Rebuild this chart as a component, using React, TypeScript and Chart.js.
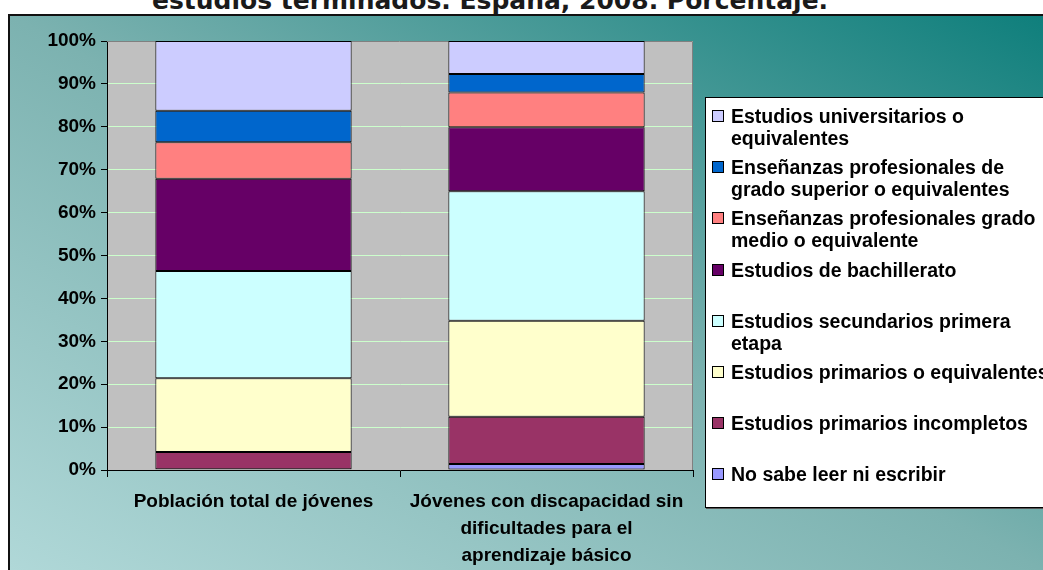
import React, { useEffect, useRef } from "react";
import { Chart, registerables } from "chart.js";

Chart.register(...registerables);

const categories: string[][] = [
  ["Población total de jóvenes"],
  ["Jóvenes con discapacidad sin", "dificultades para el", "aprendizaje básico"],
];

const seriesLabels = [
  "No sabe leer ni escribir",
  "Estudios primarios incompletos",
  "Estudios primarios o equivalentes",
  "Estudios secundarios primera\netapa",
  "Estudios de bachillerato",
  "Enseñanzas profesionales grado\nmedio o equivalente",
  "Enseñanzas profesionales de\ngrado superior o equivalentes",
  "Estudios universitarios o\nequivalentes",
];

const seriesColors = [
  "#9999FF",
  "#993366",
  "#FFFFCC",
  "#CCFFFF",
  "#660066",
  "#FF8080",
  "#0066CC",
  "#CCCCFF",
];

const noSabe = [0.2, 1.4];
const primariosIncompletos = [4.0, 11.0];
const primarios = [17.2, 22.4];
const secundarios = [25.0, 30.2];
const bachillerato = [21.5, 14.9];
const gradoMedio = [8.5, 8.1];
const gradoSuperior = [7.35, 4.3];
const universitarios = [16.25, 7.7];

const seriesValues = [
  noSabe,
  primariosIncompletos,
  primarios,
  secundarios,
  bachillerato,
  gradoMedio,
  gradoSuperior,
  universitarios,
];

const yTickStep = 10;
const yMax = 100;

const titleText = "estudios terminados. España, 2008. Porcentaje.";

const FONT = "'Liberation Sans', Arial, sans-serif";

export default function App() {
  const canvasRef = useRef<HTMLCanvasElement | null>(null);

  useEffect(() => {
    const canvas = canvasRef.current;
    if (!canvas) return;

    const plotBg = {
      id: "plotBg",
      beforeDraw(chart: any) {
        const { ctx, chartArea } = chart;
        ctx.save();
        ctx.fillStyle = "#C0C0C0";
        ctx.fillRect(chartArea.left, chartArea.top, chartArea.right - chartArea.left, chartArea.bottom - chartArea.top);
        ctx.restore();
      },
      beforeDatasetsDraw(chart: any) {
        const { ctx, chartArea } = chart;
        ctx.save();
        ctx.strokeStyle = "#808080";
        ctx.lineWidth = 1;
        ctx.beginPath();
        ctx.moveTo(chartArea.left, chartArea.top + 0.5);
        ctx.lineTo(chartArea.right - 0.5, chartArea.top + 0.5);
        ctx.lineTo(chartArea.right - 0.5, chartArea.bottom);
        ctx.stroke();
        ctx.restore();
      },
    };

    const chart = new Chart(canvas, {
      type: "bar",
      data: {
        labels: categories,
        datasets: seriesLabels.map((label, i) => ({
          label: label.replace("\n", " "),
          data: seriesValues[i],
          backgroundColor: seriesColors[i],
          borderColor: "#000000",
          borderWidth: 1,
          borderSkipped: false,
          barPercentage: 0.67,
          categoryPercentage: 1,
        })),
      },
      options: {
        responsive: false,
        animation: false,
        layout: { padding: { left: 0, top: 41, right: 350, bottom: 0 } },
        plugins: {
          legend: { display: false },
          title: { display: false },
          tooltip: { enabled: false },
        },
        scales: {
          x: {
            stacked: true,
            offset: true,
            afterFit: (scale: any) => {
              scale.height = 100;
            },
            grid: {
              offset: true,
              drawOnChartArea: false,
              tickColor: "#000000",
              tickLength: 7,
            },
            border: { color: "#000000", width: 1 },
            ticks: {
              color: "#000000",
              padding: 11,
              maxRotation: 0,
              autoSkip: false,
              font: { family: FONT, size: 19, weight: "bold", lineHeight: 1.42 },
            },
          },
          y: {
            stacked: true,
            min: 0,
            max: yMax,
            afterFit: (scale: any) => {
              scale.width = 107;
            },
            grid: {
              color: "#CCFFCC",
              tickColor: "#000000",
              tickLength: 6,
            },
            border: { color: "#000000", width: 1 },
            ticks: {
              stepSize: yTickStep,
              color: "#000000",
              padding: 5,
              font: { family: FONT, size: 19, weight: "bold" },
              callback: (v: any) => v + "%",
            },
          },
        },
      },
      plugins: [plotBg],
    });

    return () => chart.destroy();
  }, []);

  const legendOrder = seriesLabels.map((_, i) => seriesLabels.length - 1 - i);

  return (
    <div
      style={{
        position: "fixed",
        left: 0,
        top: 0,
        width: 1043,
        height: 570,
        overflow: "hidden",
        background: "#ffffff",
      }}
    >
      <div
        style={{
          position: "absolute",
          left: 152,
          top: -12,
          whiteSpace: "nowrap",
          fontFamily: "'DejaVu Sans', Verdana, sans-serif",
          fontWeight: "bold",
          fontSize: 25,
          lineHeight: "25px",
          color: "#1a1a1a",
        }}
      >
        {titleText}
      </div>
      <div
        style={{
          position: "absolute",
          left: 8,
          top: 14,
          width: 1035,
          height: 556,
          boxSizing: "border-box",
          borderLeft: "2px solid #111",
          borderTop: "2px solid #111",
          background: "linear-gradient(to top right, #b0d8d8 0%, #7cb2b0 50%, #0f7f7c 100%)",
        }}
      />
      <canvas
        ref={canvasRef}
        width={1043}
        height={570}
        style={{ position: "absolute", left: 0, top: 0, width: 1043, height: 570 }}
      />
      <div
        style={{
          position: "absolute",
          left: 705,
          top: 97,
          width: 420,
          height: 411,
          boxSizing: "border-box",
          background: "#ffffff",
          border: "1px solid #000",
          boxShadow: "1px 1px 0 #555",
          fontFamily: FONT,
          fontWeight: "bold",
          fontSize: 19.5,
          color: "#000",
        }}
      >
        {legendOrder.map((si, k) => (
          <div
            key={si}
            style={{ position: "absolute", left: 0, top: 7 + k * 51.2, width: 420 }}
          >
            <div
              style={{
                position: "absolute",
                left: 6,
                top: 5,
                width: 12,
                height: 12,
                boxSizing: "border-box",
                border: "1px solid #000",
                background: seriesColors[si],
              }}
            />
            <div
              style={{
                position: "absolute",
                left: 25,
                top: 0,
                whiteSpace: "pre",
                lineHeight: "22px",
              }}
            >
              {seriesLabels[si]}
            </div>
          </div>
        ))}
      </div>
    </div>
  );
}
